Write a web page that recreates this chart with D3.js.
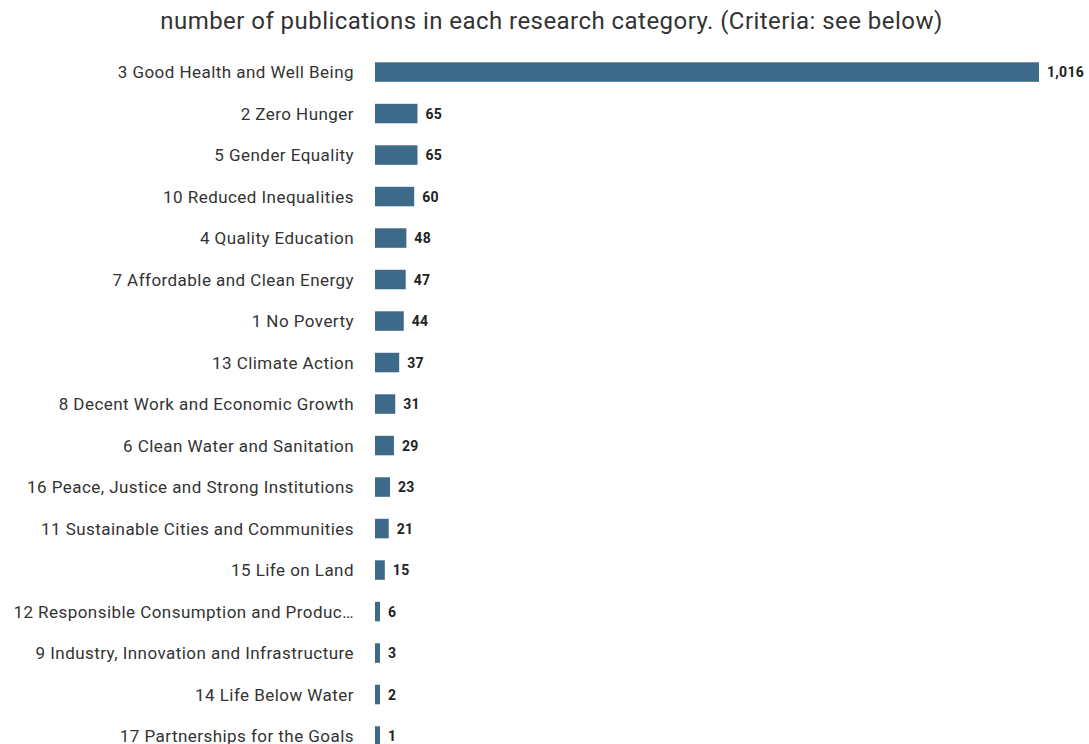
<!DOCTYPE html>
<html><head><meta charset="utf-8">
<script src="https://cdn.jsdelivr.net/npm/d3@7"></script>
<style>body{margin:0;background:#fff;}svg{display:block;}</style>
</head><body>
<svg id="c" width="1089" height="744"></svg>
<script>
const title = "number of publications in each research category. (Criteria: see below)";
const categories = ["3 Good Health and Well Being","2 Zero Hunger","5 Gender Equality","10 Reduced Inequalities","4 Quality Education","7 Affordable and Clean Energy","1 No Poverty","13 Climate Action","8 Decent Work and Economic Growth","6 Clean Water and Sanitation","16 Peace, Justice and Strong Institutions","11 Sustainable Cities and Communities","15 Life on Land","12 Responsible Consumption and Produc…","9 Industry, Innovation and Infrastructure","14 Life Below Water","17 Partnerships for the Goals"];
const values = [1016,65,65,60,48,47,44,37,31,29,23,21,15,6,3,2,1];

const svg = d3.select("#c");
const x = d3.scaleLinear().domain([0,1016]).range([375,1039]);
const y = d3.scaleBand().domain(categories).range([51.3, 51.3+17*41.5]).paddingInner(0.53).paddingOuter(0.265);

svg.append("text").attr("x",551.5).attr("y",29).attr("text-anchor","middle")
  .attr("font-family","Roboto").attr("font-size",24).attr("letter-spacing",0.45).attr("fill","#333").text(title);

const data = categories.map((c,i)=>({c, v:values[i]}));
const w = d => Math.max(x(d.v)-x(0), 5);

svg.append("g").selectAll("rect").data(data).join("rect")
  .attr("x",x(0)).attr("y",d=>y(d.c)).attr("height",y.bandwidth())
  .attr("width",w).attr("fill","#3d6a88");

svg.append("g").selectAll("text").data(data).join("text")
  .attr("x",354).attr("y",d=>y(d.c)+y.bandwidth()/2).attr("dy","0.36em")
  .attr("text-anchor","end").attr("font-family","Roboto").attr("font-size",17).attr("letter-spacing",0.45).attr("fill","#333")
  .text(d=>d.c);

svg.append("g").selectAll("text").data(data).join("text")
  .attr("x",d=>x(0)+w(d)+8).attr("y",d=>y(d.c)+y.bandwidth()/2).attr("dy","0.36em")
  .attr("font-family","Roboto").attr("font-weight","bold").attr("font-size",14).attr("letter-spacing",0.3).attr("fill","#222")
  .text(d=>d3.format(",")(d.v));
</script>
</body></html>
